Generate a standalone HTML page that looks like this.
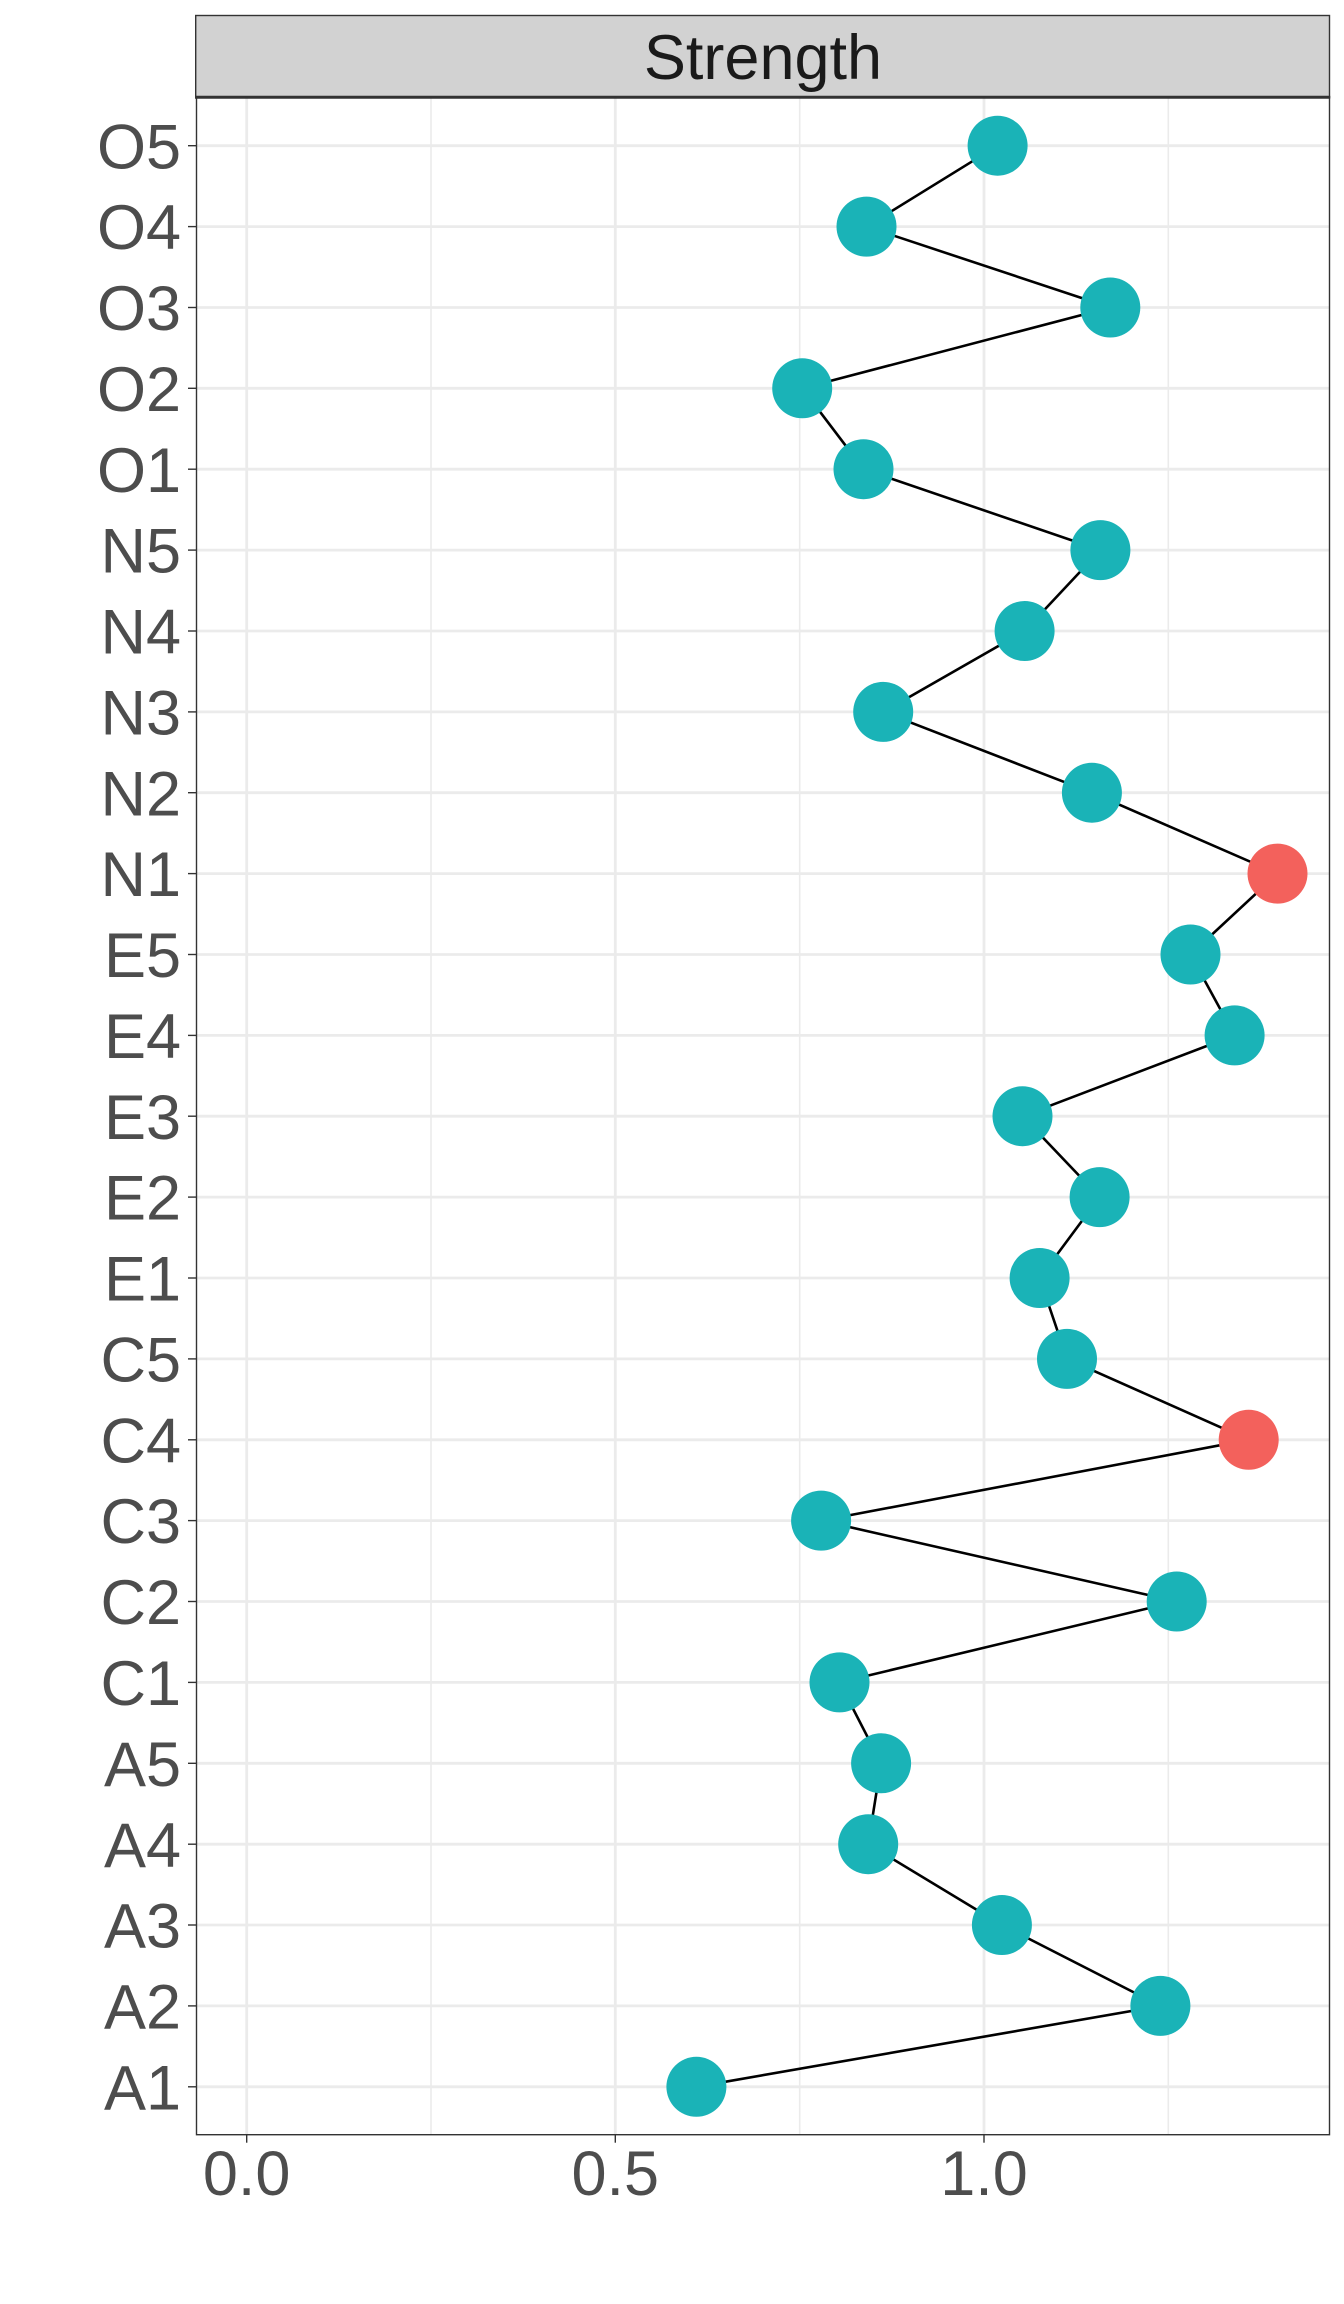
<!DOCTYPE html>
<html><head><meta charset="utf-8"><style>
html,body{margin:0;padding:0;background:#fff;}
svg{display:block;}
text{font-family:"Liberation Sans",Arial,sans-serif;}
</style></head><body>
<svg width="1344" height="2304" viewBox="0 0 1344 2304" xmlns="http://www.w3.org/2000/svg">
<rect x="0" y="0" width="1344" height="2304" fill="#fff"/>
<!-- panel background -->
<rect x="196.5" y="97" width="1133" height="2037.7" fill="#fff"/>
<!-- minor vertical grid -->
<g stroke="#EBEBEB" stroke-width="1.6">
<line x1="431" y1="97" x2="431" y2="2134.7"/>
<line x1="799.7" y1="97" x2="799.7" y2="2134.7"/>
<line x1="1168.3" y1="97" x2="1168.3" y2="2134.7"/>
</g>
<!-- major vertical grid -->
<g stroke="#EBEBEB" stroke-width="2.8">
<line x1="246.7" y1="97" x2="246.7" y2="2134.7"/>
<line x1="615.3" y1="97" x2="615.3" y2="2134.7"/>
<line x1="984" y1="97" x2="984" y2="2134.7"/>
</g>
<!-- horizontal grid -->
<g stroke="#EBEBEB" stroke-width="2.8">
<line x1="196.5" x2="1329.5" y1="145.7" y2="145.7"/>
<line x1="196.5" x2="1329.5" y1="226.6" y2="226.6"/>
<line x1="196.5" x2="1329.5" y1="307.5" y2="307.5"/>
<line x1="196.5" x2="1329.5" y1="388.3" y2="388.3"/>
<line x1="196.5" x2="1329.5" y1="469.2" y2="469.2"/>
<line x1="196.5" x2="1329.5" y1="550.1" y2="550.1"/>
<line x1="196.5" x2="1329.5" y1="631" y2="631"/>
<line x1="196.5" x2="1329.5" y1="711.9" y2="711.9"/>
<line x1="196.5" x2="1329.5" y1="792.7" y2="792.7"/>
<line x1="196.5" x2="1329.5" y1="873.6" y2="873.6"/>
<line x1="196.5" x2="1329.5" y1="954.5" y2="954.5"/>
<line x1="196.5" x2="1329.5" y1="1035.4" y2="1035.4"/>
<line x1="196.5" x2="1329.5" y1="1116.2" y2="1116.2"/>
<line x1="196.5" x2="1329.5" y1="1197.1" y2="1197.1"/>
<line x1="196.5" x2="1329.5" y1="1278" y2="1278"/>
<line x1="196.5" x2="1329.5" y1="1358.9" y2="1358.9"/>
<line x1="196.5" x2="1329.5" y1="1439.8" y2="1439.8"/>
<line x1="196.5" x2="1329.5" y1="1520.6" y2="1520.6"/>
<line x1="196.5" x2="1329.5" y1="1601.5" y2="1601.5"/>
<line x1="196.5" x2="1329.5" y1="1682.4" y2="1682.4"/>
<line x1="196.5" x2="1329.5" y1="1763.3" y2="1763.3"/>
<line x1="196.5" x2="1329.5" y1="1844.2" y2="1844.2"/>
<line x1="196.5" x2="1329.5" y1="1925" y2="1925"/>
<line x1="196.5" x2="1329.5" y1="2005.9" y2="2005.9"/>
<line x1="196.5" x2="1329.5" y1="2086.8" y2="2086.8"/>
</g>
<!-- connecting line -->
<polyline fill="none" stroke="#000" stroke-width="2.6" stroke-linejoin="round" points="997.6,145.7 866.5,226.6 1110.3,307.5 802.2,388.3 863.5,469.2 1100.4,550.1 1024.6,631 883.2,711.9 1091.9,792.7 1277.5,873.6 1190.5,954.5 1234.6,1035.4 1022.5,1116.2 1099.6,1197.1 1039.6,1278 1067,1358.9 1248.7,1439.8 821.1,1520.6 1176.7,1601.5 839.5,1682.4 881.1,1763.3 868.2,1844.2 1001.9,1925 1160.4,2005.9 696.4,2086.8"/>
<!-- points -->
<g fill="#1AB3B7">
<circle cx="997.6" cy="145.7" r="30"/>
<circle cx="866.5" cy="226.6" r="30"/>
<circle cx="1110.3" cy="307.5" r="30"/>
<circle cx="802.2" cy="388.3" r="30"/>
<circle cx="863.5" cy="469.2" r="30"/>
<circle cx="1100.4" cy="550.1" r="30"/>
<circle cx="1024.6" cy="631" r="30"/>
<circle cx="883.2" cy="711.9" r="30"/>
<circle cx="1091.9" cy="792.7" r="30"/>
<circle cx="1190.5" cy="954.5" r="30"/>
<circle cx="1234.6" cy="1035.4" r="30"/>
<circle cx="1022.5" cy="1116.2" r="30"/>
<circle cx="1099.6" cy="1197.1" r="30"/>
<circle cx="1039.6" cy="1278" r="30"/>
<circle cx="1067" cy="1358.9" r="30"/>
<circle cx="821.1" cy="1520.6" r="30"/>
<circle cx="1176.7" cy="1601.5" r="30"/>
<circle cx="839.5" cy="1682.4" r="30"/>
<circle cx="881.1" cy="1763.3" r="30"/>
<circle cx="868.2" cy="1844.2" r="30"/>
<circle cx="1001.9" cy="1925" r="30"/>
<circle cx="1160.4" cy="2005.9" r="30"/>
<circle cx="696.4" cy="2086.8" r="30"/>
</g>
<g fill="#F3615C">
<circle cx="1277.5" cy="873.6" r="30"/>
<circle cx="1248.7" cy="1439.8" r="30"/>
</g>
<!-- panel border -->
<rect x="196.5" y="97" width="1133" height="2037.7" fill="none" stroke="#333333" stroke-width="1.4"/>
<!-- strip -->
<rect x="195.7" y="15.5" width="1133.8" height="81.5" fill="#D2D2D2" stroke="#333333" stroke-width="1.4"/>
<line x1="195" y1="97.3" x2="1330.2" y2="97.3" stroke="#333333" stroke-width="3"/>
<text x="763" y="79" font-size="63" fill="#1A1A1A" text-anchor="middle">Strength</text>
<!-- y ticks -->
<g stroke="#333333" stroke-width="1.4">
<line x1="188" x2="196" y1="145.7" y2="145.7"/>
<line x1="188" x2="196" y1="226.6" y2="226.6"/>
<line x1="188" x2="196" y1="307.5" y2="307.5"/>
<line x1="188" x2="196" y1="388.3" y2="388.3"/>
<line x1="188" x2="196" y1="469.2" y2="469.2"/>
<line x1="188" x2="196" y1="550.1" y2="550.1"/>
<line x1="188" x2="196" y1="631" y2="631"/>
<line x1="188" x2="196" y1="711.9" y2="711.9"/>
<line x1="188" x2="196" y1="792.7" y2="792.7"/>
<line x1="188" x2="196" y1="873.6" y2="873.6"/>
<line x1="188" x2="196" y1="954.5" y2="954.5"/>
<line x1="188" x2="196" y1="1035.4" y2="1035.4"/>
<line x1="188" x2="196" y1="1116.2" y2="1116.2"/>
<line x1="188" x2="196" y1="1197.1" y2="1197.1"/>
<line x1="188" x2="196" y1="1278" y2="1278"/>
<line x1="188" x2="196" y1="1358.9" y2="1358.9"/>
<line x1="188" x2="196" y1="1439.8" y2="1439.8"/>
<line x1="188" x2="196" y1="1520.6" y2="1520.6"/>
<line x1="188" x2="196" y1="1601.5" y2="1601.5"/>
<line x1="188" x2="196" y1="1682.4" y2="1682.4"/>
<line x1="188" x2="196" y1="1763.3" y2="1763.3"/>
<line x1="188" x2="196" y1="1844.2" y2="1844.2"/>
<line x1="188" x2="196" y1="1925" y2="1925"/>
<line x1="188" x2="196" y1="2005.9" y2="2005.9"/>
<line x1="188" x2="196" y1="2086.8" y2="2086.8"/>
</g>
<!-- x ticks -->
<g stroke="#333333" stroke-width="1.4">
<line x1="246.7" x2="246.7" y1="2134.7" y2="2142.7"/>
<line x1="615.3" x2="615.3" y1="2134.7" y2="2142.7"/>
<line x1="984" x2="984" y1="2134.7" y2="2142.7"/>
</g>
<!-- y labels -->
<g font-size="63" fill="#4D4D4D" text-anchor="end">
<text x="181" y="168.3">O5</text>
<text x="181" y="249.2">O4</text>
<text x="181" y="330.1">O3</text>
<text x="181" y="410.9">O2</text>
<text x="181" y="491.8">O1</text>
<text x="181" y="572.7">N5</text>
<text x="181" y="653.6">N4</text>
<text x="181" y="734.5">N3</text>
<text x="181" y="815.3">N2</text>
<text x="181" y="896.2">N1</text>
<text x="181" y="977.1">E5</text>
<text x="181" y="1058">E4</text>
<text x="181" y="1138.8">E3</text>
<text x="181" y="1219.7">E2</text>
<text x="181" y="1300.6">E1</text>
<text x="181" y="1381.5">C5</text>
<text x="181" y="1462.4">C4</text>
<text x="181" y="1543.2">C3</text>
<text x="181" y="1624.1">C2</text>
<text x="181" y="1705">C1</text>
<text x="181" y="1785.9">A5</text>
<text x="181" y="1866.8">A4</text>
<text x="181" y="1947.6">A3</text>
<text x="181" y="2028.5">A2</text>
<text x="181" y="2109.4">A1</text>
</g>
<!-- x labels -->
<g font-size="63" fill="#4D4D4D" text-anchor="middle">
<text x="246.7" y="2195">0.0</text>
<text x="615.3" y="2195">0.5</text>
<text x="984" y="2195">1.0</text>
</g>
</svg>
</body></html>
